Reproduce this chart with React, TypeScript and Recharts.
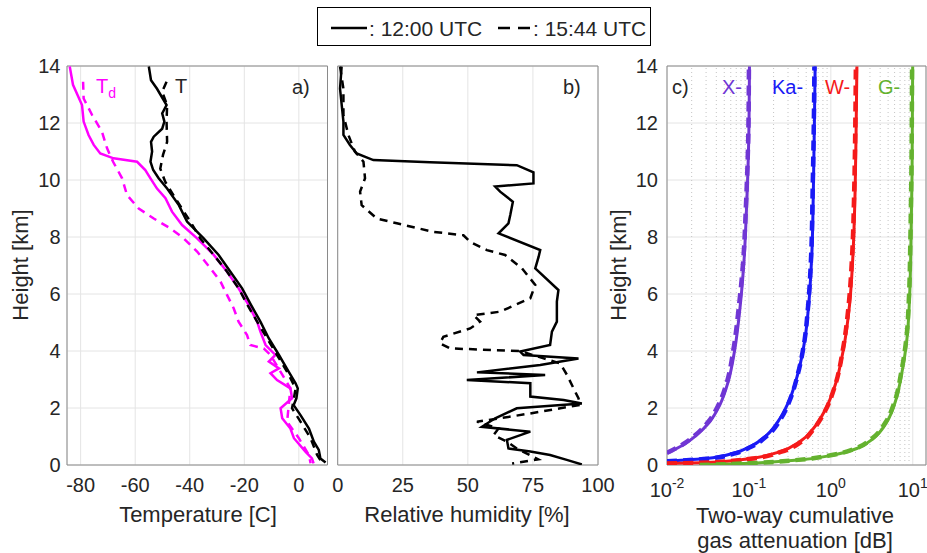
import { CartesianGrid, Line, LineChart, ReferenceArea, ReferenceLine, XAxis, YAxis } from 'recharts'

// every profile point is [height km, value]
type P = [number, number]

const heightTicks = [0, 2, 4, 6, 8, 10, 12, 14]
const tempTicks = [-80, -60, -40, -20, 0]
const rhTicks = [0, 25, 50, 75, 100]
const attTicks = [0.01, 0.1, 1, 10]
const attMinorSteps = [2, 3, 4, 5, 6, 7, 8, 9]
const attMinorDecades = [0.01, 0.1, 1]

const temp1200: P[] = [
  [13.98, -55.0], [13.5, -54.2], [13.2, -52.0], [12.63, -48.5], [12.34, -50.1], [12.05, -49.3],
  [11.8, -50.1], [11.52, -53.2], [11.34, -54.2], [11.0, -53.8], [10.64, -54.4], [10.35, -53.4],
  [10.06, -51.4], [9.7, -48.3], [9.12, -44.0], [8.54, -41.0], [7.95, -34.9], [7.37, -29.4],
  [6.78, -25.1], [6.2, -20.8], [5.61, -17.5], [5.03, -14.1], [4.44, -11.0], [3.86, -7.3],
  [3.27, -3.7], [2.87, -1.2], [2.69, -0.4], [2.34, -0.9], [2.1, -1.9], [1.75, 0.6], [1.28, 3.7],
  [0.82, 5.5], [0.53, 7.3], [0.23, 7.9], [0.09, 9.8],
]
const temp1544: P[] = [
  [13.45, -48.5], [13.1, -50.1], [12.63, -48.3], [12.05, -48.5], [11.34, -48.3], [10.88, -49.8],
  [10.4, -50.8], [9.94, -49.0], [9.36, -45.3], [8.54, -39.8], [7.95, -36.1], [7.37, -31.2],
  [6.78, -26.3], [6.2, -22.1], [5.61, -18.8], [5.03, -15.3], [4.44, -11.6], [3.86, -8.0],
  [3.27, -4.3], [2.69, -1.2], [2.34, -1.8], [1.99, -2.5], [1.52, 0.6], [0.94, 4.3], [0.35, 6.7],
  [0.06, 8.6],
]
const dew1200: P[] = [
  [13.98, -84.0], [13.34, -82.8], [12.63, -79.5], [12.05, -78.9], [11.58, -77.1], [11.23, -75.2],
  [10.93, -72.8], [10.76, -67.9], [10.64, -59.3], [10.35, -56.3], [10.06, -54.4], [9.7, -52.0],
  [9.36, -48.9], [8.89, -46.5], [8.42, -42.8], [7.95, -37.3], [7.37, -31.2], [6.78, -26.3],
  [6.2, -22.1], [5.61, -18.4], [5.03, -15.3], [4.68, -14.1], [4.21, -12.2], [3.86, -8.6],
  [3.63, -11.0], [3.39, -7.3], [3.22, -10.4], [2.98, -8.0], [2.69, -3.1], [2.34, -2.5],
  [1.99, -6.7], [1.64, -6.1], [1.28, -3.1], [0.94, -1.8], [0.47, 2.4], [0.23, 4.8], [0.06, 5.4],
]
const dew1544: P[] = [
  [13.45, -79.1], [12.86, -78.9], [12.28, -75.8], [11.7, -72.2], [11.11, -70.3], [10.64, -68.1],
  [10.06, -64.8], [9.47, -63.0], [9.0, -58.7], [8.65, -53.2], [8.3, -47.1], [7.95, -42.2],
  [7.49, -37.3], [6.9, -32.4], [6.43, -28.7], [5.96, -26.3], [5.5, -23.9], [5.03, -22.1],
  [4.56, -19.0], [4.21, -17.8], [4.09, -12.9], [3.86, -10.4], [3.27, -6.7], [2.69, -3.1],
  [2.11, -3.7], [1.52, -4.3], [0.94, 0.0], [0.35, 3.7], [0.06, 4.3],
]

const rh1200: P[] = [
  [13.98, 1.5], [13.2, 0.9], [12.05, 2.2], [11.58, 2.2], [11.23, 4.7], [10.93, 7.3], [10.7, 13.7],
  [10.62, 35.5], [10.52, 68.8], [10.27, 75.2], [9.88, 75.2], [9.77, 60.5], [9.59, 62.4],
  [9.24, 67.3], [8.77, 66.3], [8.48, 65.6], [8.13, 61.8], [7.54, 77.8], [7.31, 77.2], [6.9, 75.9],
  [6.14, 84.8], [5.73, 84.2], [5.03, 84.2], [4.68, 82.3], [4.21, 81.6], [3.98, 70.1], [3.86, 71.4],
  [3.74, 92.5], [3.51, 77.8], [3.25, 53.5], [3.16, 79.7], [2.98, 49.6], [2.87, 74.0], [2.4, 74.0],
  [2.28, 86.8], [2.16, 93.8], [1.99, 68.8], [1.64, 60.5], [1.34, 55.4], [1.17, 74.0], [0.88, 65.0],
  [0.58, 65.6], [0.47, 74.0], [0.35, 81.6], [0.18, 88.0], [0.02, 93.8],
]
const rh1544: P[] = [
  [13.98, 0.9], [13.2, 2.2], [12.28, 2.2], [11.58, 4.1], [11.0, 6.6], [10.64, 9.9], [10.06, 10.5],
  [9.59, 8.6], [9.12, 9.2], [8.65, 15.0], [8.48, 22.7], [8.18, 36.8], [8.06, 48.3], [7.83, 50.9],
  [7.54, 57.3], [7.37, 64.3], [6.9, 70.8], [6.32, 75.9], [5.85, 74.0], [5.38, 62.4], [5.26, 52.2],
  [5.03, 54.7], [4.79, 50.9], [4.5, 40.6], [4.27, 39.3], [4.09, 43.2], [4.0, 70.1], [3.74, 79.1],
  [3.56, 85.5], [3.16, 88.1], [2.69, 90.6], [2.34, 92.5], [2.11, 93.2], [1.99, 85.5], [1.81, 74.0],
  [1.64, 62.4], [1.52, 53.5], [1.28, 61.8], [1.05, 59.9], [0.82, 65.0], [0.58, 68.8], [0.2, 77.0],
  [0.05, 67.0],
]

const attX1200: P[] = [
  [0.41, 0.01], [0.7, 0.0157], [1.05, 0.0229], [1.52, 0.0333], [2.11, 0.0442], [2.92, 0.0558],
  [4.09, 0.0675], [5.5, 0.0777], [7.13, 0.0869], [9.12, 0.0938], [11.46, 0.0995], [13.98, 0.1015],
]
const attX1544: P[] = [
  [0.43, 0.01], [0.72, 0.0155], [1.05, 0.0222], [1.52, 0.032], [2.11, 0.0425], [2.92, 0.054],
  [4.09, 0.065], [5.5, 0.075], [7.13, 0.085], [9.12, 0.092], [11.46, 0.098], [13.98, 0.1],
]
const attKa1200: P[] = [
  [0.14, 0.01], [0.23, 0.0303], [0.41, 0.0643], [0.64, 0.103], [1.05, 0.165], [1.64, 0.24],
  [2.34, 0.318], [3.27, 0.401], [4.44, 0.484], [5.5, 0.532], [7.37, 0.585], [9.7, 0.612],
  [12.05, 0.63], [13.98, 0.643],
]
const attKa1544: P[] = [
  [0.13, 0.01], [0.22, 0.031], [0.4, 0.066], [0.63, 0.105], [1.03, 0.168], [1.62, 0.245],
  [2.32, 0.32], [3.25, 0.4], [4.42, 0.48], [5.5, 0.525], [7.37, 0.575], [9.7, 0.6], [12.05, 0.62],
  [13.98, 0.63],
]
const attW1200: P[] = [
  [0.06, 0.01], [0.09, 0.0303], [0.23, 0.103], [0.47, 0.24], [0.82, 0.42], [1.28, 0.612],
  [1.93, 0.851], [2.81, 1.13], [4.09, 1.43], [5.61, 1.69], [7.37, 1.86], [9.7, 1.98], [12.05, 2.04],
  [13.98, 2.08],
]
const attW1544: P[] = [
  [0.05, 0.01], [0.085, 0.031], [0.22, 0.105], [0.46, 0.245], [0.8, 0.43], [1.27, 0.62],
  [1.92, 0.86], [2.8, 1.13], [4.09, 1.41], [5.61, 1.65], [7.37, 1.82], [9.7, 1.93], [12.05, 1.99],
  [13.98, 2.02],
]
const attG1200: P[] = [
  [0.0, 0.028], [0.06, 0.103], [0.18, 0.42], [0.35, 1.08], [0.58, 2.08], [0.94, 3.32],
  [1.52, 4.84], [2.22, 6.12], [3.27, 7.4], [4.44, 8.5], [5.96, 9.16], [7.95, 9.52], [10.29, 9.8],
  [13.98, 9.97],
]
const attG1544: P[] = [
  [0.0, 0.025], [0.06, 0.1], [0.18, 0.4], [0.35, 1.03], [0.58, 2.0], [0.94, 3.2], [1.52, 4.7],
  [2.22, 6.0], [3.27, 7.25], [4.44, 8.35], [5.96, 9.0], [7.95, 9.35], [10.29, 9.62], [13.98, 9.8],
]

const FONT = "'Liberation Sans', Arial, Helvetica, sans-serif"
const INK = '#262626'
const GRID = '#e4e4e4'
const FRAME = '#8a8a8a'
const MAGENTA = '#ff00ff'
const C_X = '#7036d4'
const C_KA = '#1a1af5'
const C_W = '#f51a1a'
const C_G = '#64b22f'

const TICK = { fontSize: 20, fill: INK, fontFamily: FONT }

type Series = { pts: P[]; color: string; width: number; dash?: string }

const rows = (pts: P[]) => pts.map(([h, v]) => ({ h, v }))

function LogTick(props: any) {
  const { x, y, payload } = props
  const exp = Math.round(Math.log10(payload.value))
  return (
    <text x={x} y={y} textAnchor="middle" fill={INK} fontFamily={FONT} fontSize={20}>
      <tspan dy={19}>10</tspan>
      <tspan dy={-9} fontSize={14}>{exp}</tspan>
    </text>
  )
}

function Panel(props: {
  left: number
  width: number
  marginLeft: number
  marginRight: number
  yWidth: number
  yTickMargin: number
  showYTicks: boolean
  xDomain: [number, number]
  xTicks: number[]
  log?: boolean
  minor?: number[]
  series: Series[]
}) {
  const { left, width, marginLeft, marginRight, yWidth, yTickMargin, showYTicks, xDomain, xTicks, log, minor, series } = props
  return (
    <div style={{ position: 'absolute', left, top: 0 }}>
      <LineChart
        width={width}
        height={553}
        margin={{ top: 66, right: marginRight, bottom: 58, left: marginLeft }}
      >
        <CartesianGrid stroke={GRID} strokeWidth={1} />
        {(minor ?? []).map((m) => (
          <ReferenceLine key={m} x={m} stroke="#c4c4c4" strokeDasharray="1 3" strokeWidth={1} />
        ))}
        <XAxis
          type="number"
          dataKey="v"
          scale={log ? 'log' : 'auto'}
          domain={xDomain}
          ticks={xTicks}
          interval={0}
          allowDataOverflow
          axisLine={false}
          tickLine={false}
          tickSize={6}
          tickMargin={7}
          height={30}
          tick={log ? (p: any) => <LogTick {...p} /> : TICK}
        />
        <YAxis
          type="number"
          dataKey="h"
          domain={[0, 14]}
          ticks={heightTicks}
          interval={0}
          allowDataOverflow
          axisLine={false}
          tickLine={false}
          tickSize={4}
          tickMargin={yTickMargin}
          width={yWidth}
          tick={showYTicks ? TICK : false}
        />
        <ReferenceArea
          x1={xDomain[0]}
          x2={xDomain[1]}
          y1={0}
          y2={14}
          fill="none"
          fillOpacity={0}
          stroke={FRAME}
          strokeWidth={1}
        />
        {series.map((s, i) => (
          <Line
            key={i}
            data={rows(s.pts)}
            dataKey="h"
            type={log ? 'monotoneY' : 'linear'}
            stroke={s.color}
            strokeWidth={s.width}
            strokeDasharray={s.dash}
            dot={false}
            activeDot={false}
            isAnimationActive={false}
          />
        ))}
      </LineChart>
    </div>
  )
}

const attMinor = attMinorDecades.flatMap((d) => attMinorSteps.map((s) => +(s * d).toPrecision(3)))

export default function App() {
  const txt = { fontFamily: FONT, fill: INK }
  return (
    <div style={{ position: 'absolute', left: 0, top: 0, width: 927, height: 553, background: '#fff', overflow: 'hidden' }}>
      <Panel
        left={0}
        width={340}
        marginLeft={17}
        marginRight={12.5}
        yWidth={50}
        yTickMargin={2.5}
        showYTicks
        xDomain={[-85, 10.5]}
        xTicks={tempTicks}
        series={[
          { pts: dew1544, color: MAGENTA, width: 2.5, dash: '8 6' },
          { pts: dew1200, color: MAGENTA, width: 2.5 },
          { pts: temp1544, color: '#000', width: 2.5, dash: '8 6' },
          { pts: temp1200, color: '#000', width: 2.5 },
        ]}
      />
      <Panel
        left={330}
        width={300}
        marginLeft={7.7}
        marginRight={32}
        yWidth={0}
        yTickMargin={2}
        showYTicks={false}
        xDomain={[0, 100]}
        xTicks={rhTicks}
        series={[
          { pts: rh1544, color: '#000', width: 2.5, dash: '8 6' },
          { pts: rh1200, color: '#000', width: 2.5 },
        ]}
      />
      <Panel
        left={600}
        width={327}
        marginLeft={17}
        marginRight={1}
        yWidth={50}
        yTickMargin={5}
        showYTicks
        xDomain={[0.01, 14.5]}
        xTicks={attTicks}
        log
        minor={attMinor}
        series={[
          { pts: attX1200, color: C_X, width: 3 },
          { pts: attX1544, color: C_X, width: 4.5, dash: '10 6' },
          { pts: attKa1200, color: C_KA, width: 3 },
          { pts: attKa1544, color: C_KA, width: 4.5, dash: '10 6' },
          { pts: attW1200, color: C_W, width: 3 },
          { pts: attW1544, color: C_W, width: 4.5, dash: '10 6' },
          { pts: attG1200, color: C_G, width: 3 },
          { pts: attG1544, color: C_G, width: 4.5, dash: '10 6' },
        ]}
      />
      <svg width={927} height={553} style={{ position: 'absolute', left: 0, top: 0, pointerEvents: 'none' }}>
        {/* legend */}
        <rect x={317.5} y={7.5} width={333} height={38} fill="#fff" stroke="#000" strokeWidth={1} />
        <line x1={331} x2={367} y1={28} y2={28} stroke="#000" strokeWidth={2.5} />
        <text x={369} y={36} fontSize={21} {...txt}>: 12:00 UTC</text>
        <line x1={498} x2={530} y1={28} y2={28} stroke="#000" strokeWidth={2.5} strokeDasharray="12 8" />
        <text x={533} y={36} fontSize={21} {...txt}>: 15:44 UTC</text>

        {/* axis titles */}
        <text x={198} y={522} fontSize={22} textAnchor="middle" {...txt}>Temperature [C]</text>
        <text x={467} y={522} fontSize={22} textAnchor="middle" {...txt}>Relative humidity [%]</text>
        <text x={795} y={523} fontSize={22} textAnchor="middle" {...txt}>Two-way cumulative</text>
        <text x={795} y={548} fontSize={22} textAnchor="middle" {...txt}>gas attenuation [dB]</text>
        <text x={28} y={265} fontSize={22} textAnchor="middle" transform="rotate(-90 28 265)" {...txt}>Height [km]</text>
        <text x={626} y={265} fontSize={22} textAnchor="middle" transform="rotate(-90 626 265)" {...txt}>Height [km]</text>

        {/* panel annotations */}
        <text x={292} y={94} fontSize={20} {...txt}>a)</text>
        <text x={563} y={94} fontSize={20} {...txt}>b)</text>
        <text x={672} y={94} fontSize={20} {...txt}>c)</text>
        <text x={96} y={93} fontSize={20} fontFamily={FONT} fill={MAGENTA}>
          T<tspan fontSize={14} dy={5}>d</tspan>
        </text>
        <text x={175} y={93} fontSize={20} {...txt}>T</text>
        <text x={722} y={94} fontSize={20} fontFamily={FONT} fill={C_X}>X-</text>
        <text x={772} y={94} fontSize={20} fontFamily={FONT} fill={C_KA}>Ka-</text>
        <text x={825} y={94} fontSize={20} fontFamily={FONT} fill={C_W}>W-</text>
        <text x={878} y={94} fontSize={20} fontFamily={FONT} fill={C_G}>G-</text>
      </svg>
    </div>
  )
}
